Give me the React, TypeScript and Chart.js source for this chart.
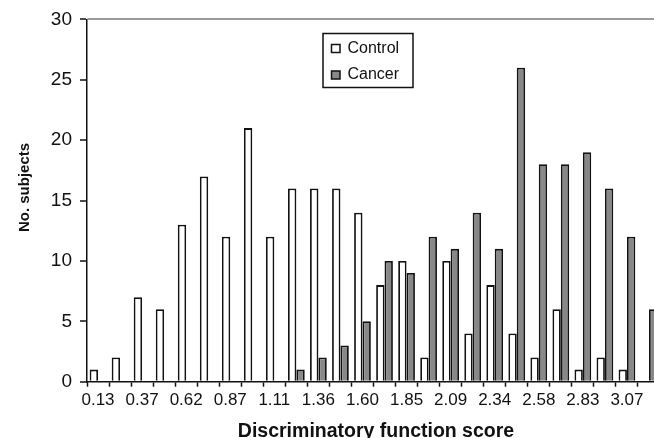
import React, { useEffect, useRef } from "react";
import { Chart, registerables } from "chart.js";

Chart.register(...registerables);

const categories = [
  "0.13", "0.25", "0.37", "0.50", "0.62", "0.74", "0.87", "0.99", "1.11", "1.23",
  "1.36", "1.48", "1.60", "1.72", "1.85", "1.97", "2.09", "2.21", "2.34", "2.46",
  "2.58", "2.70", "2.83", "2.95", "3.07", "3.19",
];
const xTickLabels = [
  "0.13", "", "0.37", "", "0.62", "", "0.87", "", "1.11", "",
  "1.36", "", "1.60", "", "1.85", "", "2.09", "", "2.34", "",
  "2.58", "", "2.83", "", "3.07", "",
];
const controlValues = [1, 2, 7, 6, 13, 17, 12, 21, 12, 16, 16, 16, 14, 8, 10, 2, 10, 4, 8, 4, 2, 6, 1, 2, 1, 0];
const cancerValues = [0, 0, 0, 0, 0, 0, 0, 0, 0, 1, 2, 3, 5, 10, 9, 12, 11, 14, 11, 26, 18, 18, 19, 16, 12, 6];
const yTicks = [0, 5, 10, 15, 20, 25, 30];
const xTitle = "Discriminatory function score";
const yTitle = "No. subjects";

const FONT = "'Liberation Sans', Arial, Helvetica, sans-serif";
const INK = "#111111";
const GREY = "#888888";

const boxLegend = {
  id: "boxLegend",
  afterDraw(chart: any) {
    const ctx = chart.ctx;
    const bx = 323, by = 33.5, bw = 90, bh = 54;
    ctx.save();
    ctx.fillStyle = "#ffffff";
    ctx.fillRect(bx, by, bw, bh);
    ctx.strokeStyle = INK;
    ctx.lineWidth = 1.5;
    ctx.strokeRect(bx, by, bw, bh);
    chart.data.datasets.forEach((ds: any, i: number) => {
      const cy = by + 15 + i * 26.5;
      ctx.fillStyle = ds.backgroundColor;
      ctx.fillRect(331.5, cy - 4, 8.5, 8);
      ctx.lineWidth = 1.5;
      ctx.strokeStyle = INK;
      ctx.strokeRect(331.5, cy - 4, 8.5, 8);
      ctx.fillStyle = INK;
      ctx.font = `16px ${FONT}`;
      ctx.textBaseline = "middle";
      ctx.textAlign = "left";
      ctx.fillText(ds.label, 347.5, cy);
    });
    ctx.restore();
  },
};

const axisTitles = {
  id: "axisTitles",
  afterDraw(chart: any) {
    const ctx = chart.ctx;
    ctx.save();
    ctx.fillStyle = INK;
    ctx.textAlign = "center";
    ctx.textBaseline = "alphabetic";
    ctx.font = `bold 19.5px ${FONT}`;
    ctx.fillText(xTitle, 376, 436.5);
    ctx.translate(29, 187.5);
    ctx.rotate(-Math.PI / 2);
    ctx.font = `bold 15px ${FONT}`;
    ctx.fillText(yTitle, 0, 0);
    ctx.restore();
  },
};

export default function App() {
  const ref = useRef<HTMLCanvasElement | null>(null);
  useEffect(() => {
    if (!ref.current) return;
    const chart = new Chart(ref.current, {
      type: "bar",
      data: {
        labels: categories,
        datasets: [
          {
            label: "Control",
            data: controlValues,
            backgroundColor: "#ffffff",
            borderColor: INK,
            borderWidth: 1.8,
            categoryPercentage: 0.76,
            barPercentage: 1,
          },
          {
            label: "Cancer",
            data: cancerValues,
            backgroundColor: GREY,
            borderColor: INK,
            borderWidth: 1.8,
            categoryPercentage: 0.76,
            barPercentage: 1,
          },
        ],
      },
      options: {
        responsive: false,
        animation: false,
        devicePixelRatio: 1,
        layout: { padding: { left: 16, right: 20, top: 19, bottom: 0 } },
        plugins: { legend: { display: false }, tooltip: { enabled: false } },
        scales: {
          x: {
            afterFit: (s: any) => { s.height = 56.3; },
            grid: {
              drawOnChartArea: false,
              drawTicks: true,
              tickLength: 5,
              tickColor: INK,
              tickWidth: 1.5,
              offset: true,
            },
            border: { display: true, color: INK, width: 1.5 },
            ticks: {
              autoSkip: false,
              maxRotation: 0,
              padding: 3,
              color: INK,
              font: { family: FONT, size: 17 },
              callback: (_v: any, i: number) => xTickLabels[i],
            },
            title: { display: false },
          },
          y: {
            min: 0,
            max: 30,
            afterFit: (s: any) => { s.width = 71; },
            afterBuildTicks: (s: any) => { s.ticks = yTicks.map((v) => ({ value: v })); },
            grid: {
              drawOnChartArea: true,
              color: (c: any) => (c.tick && c.tick.value === 30 ? "#999999" : "rgba(0,0,0,0)"),
              lineWidth: 2,
              tickLength: 7,
              tickColor: INK,
              tickWidth: 1.5,
            },
            border: { display: true, color: INK, width: 1.5 },
            ticks: {
              padding: 8,
              color: INK,
              font: { family: FONT, size: 19 },
            },
            title: { display: false },
          },
        },
      },
      plugins: [boxLegend, axisTitles],
    } as any);
    return () => chart.destroy();
  }, []);
  return (
    <div style={{ position: "fixed", left: 0, top: 0, width: 654, height: 438, overflow: "hidden", background: "#fff" }}>
      <canvas ref={ref} width={680} height={438} style={{ display: "block" }} />
    </div>
  );
}
